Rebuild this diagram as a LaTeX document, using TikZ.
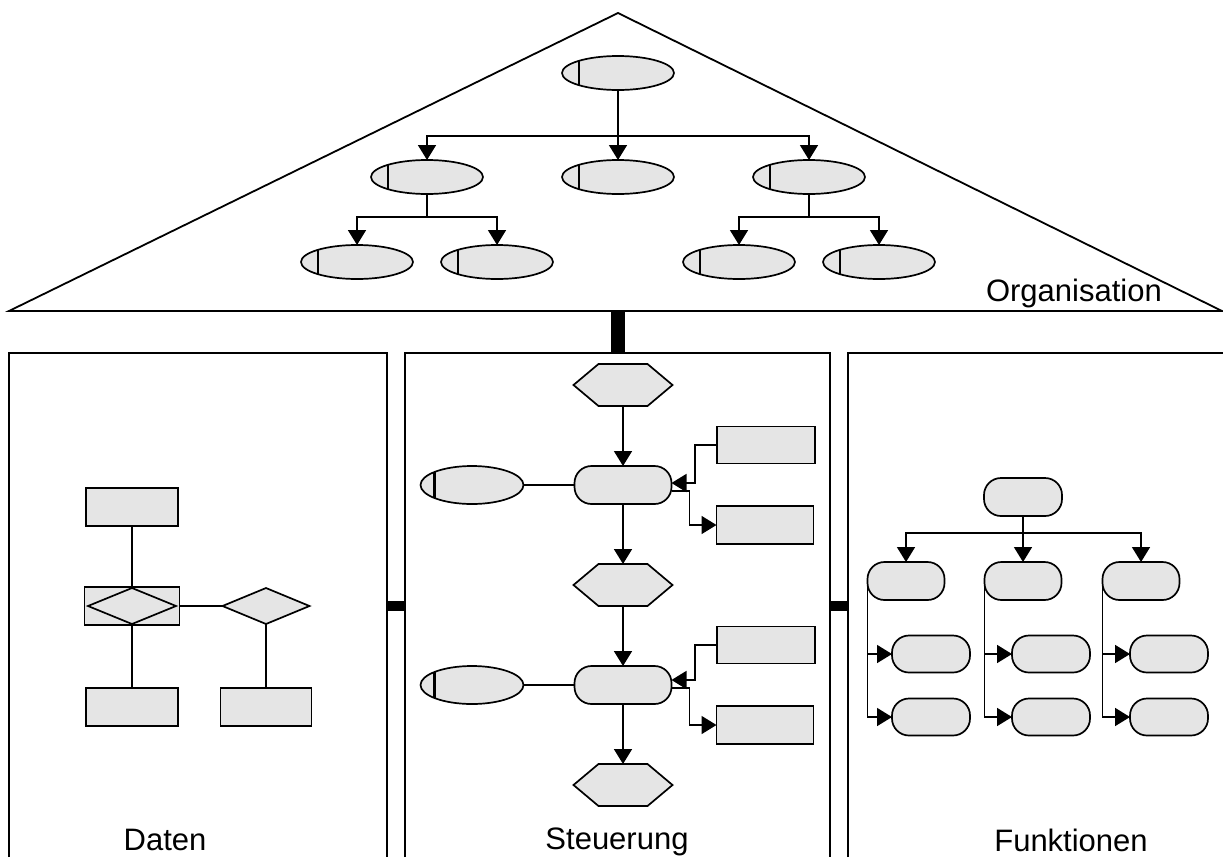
\documentclass[tikz,border=0pt]{standalone}
\usepackage{fontspec}
\setmainfont{Liberation Sans}
\usetikzlibrary{shapes.geometric,arrows.meta}
\tikzset{
  lw/.style={line width=1.7pt},
  shp/.style={lw, draw=black, fill=black!10, inner sep=0pt, outer sep=0pt},
  orgell/.style={shp, ellipse, minimum width=#1, minimum height=34pt,
    path picture={\draw[line width=2.4pt] ([xshift=17pt]path picture bounding box.south west) -- ([xshift=17pt]path picture bounding box.north west);}},
  orgell/.default=112pt,
  ctlell/.style={shp, ellipse, minimum width=103pt, minimum height=38pt,
    path picture={\draw[line width=2.4pt] ([xshift=14pt]path picture bounding box.south west) -- ([xshift=14pt]path picture bounding box.north west);}},
  stad/.style={shp, rectangle, rounded corners=17pt, minimum width=#1, minimum height=38pt},
  stad/.default=97pt,
  box/.style={shp, rectangle, minimum width=#1, minimum height=38pt},
  box/.default=92pt,
  dia/.style={shp, diamond, minimum width=88pt, minimum height=36pt},
  hexnode/.style={inner sep=0pt, outer sep=0pt, minimum width=99pt, minimum height=42pt},
  hexline/.style={shp},
  conn/.style={lw, draw=black},
  arr/.style={conn, -{Triangle[width=18pt,length=15pt]}},
  frame/.style={line width=1.8pt, draw=black},
  bar/.style={fill=black, draw=none},
  lbl/.style={inner sep=0pt, anchor=base, font=\fontsize{31}{37}\selectfont},
}
\newcommand\hexdraw[1]{\draw[hexline] (#1.west) -- ([xshift=25pt]#1.north west) -- ([xshift=-25pt]#1.north east) -- (#1.east) -- ([xshift=-25pt]#1.south east) -- ([xshift=25pt]#1.south west) -- cycle;}
\begin{document}
\begin{tikzpicture}[x=1pt,y=-1pt]
\useasboundingbox (0,0) rectangle (1223,857);
% ---------- Organisation (roof) ----------
\draw[frame, line join=miter] (9,311) -- (618,13) -- (1222,311) -- cycle;
\node[lbl, anchor=base east] (lorg) at (1162,301) {Organisation};
\node[orgell] (o1) at (618,73) {};
\node[orgell] (o2) at (427,177) {};
\node[orgell] (o3) at (618,177) {};
\node[orgell] (o4) at (809,177) {};
\node[orgell] (o5) at (357,262) {};
\node[orgell] (o6) at (497,262) {};
\node[orgell] (o7) at (739,262) {};
\node[orgell] (o8) at (879,262) {};
\draw[arr] (o1.south) -- (o3.north);
\draw[arr] (o1.south) -- ++(0,46) -| (o2.north);
\draw[arr] (o1.south) -- ++(0,46) -| (o4.north);
\draw[arr] (o2.south) -- ++(0,23) -| (o5.north);
\draw[arr] (o2.south) -- ++(0,23) -| (o6.north);
\draw[arr] (o4.south) -- ++(0,23) -| (o7.north);
\draw[arr] (o4.south) -- ++(0,23) -| (o8.north);
% ---------- panels ----------
\draw[frame] (9,857) -- (9,353) -- (387,353) -- (387,857);
\draw[frame] (405,857) -- (405,353) -- (830,353) -- (830,857);
\draw[frame] (848,857) -- (848,353) -- (1224,353);
\draw[bar] (611,311) rectangle (625,353);
\draw[bar] (387,601) rectangle (405,611);
\draw[bar] (830,601) rectangle (848,611);
% ---------- Daten ----------
\node[box] (d1) at (132,507) {};
\node[box=95pt] (d2) at (132,606) {};
\node[dia] (dd2) at (132,606) {};
\node[dia, minimum width=87pt] (d3) at (266,606) {};
\node[box] (d4) at (132,707) {};
\node[box=91pt] (d5) at (266,707) {};
\draw[conn] (d1.south) -- (dd2.north);
\draw[conn] (dd2.south) -- (d4.north);
\draw[conn] (d2.east) -- (d3.west);
\draw[conn] (d3.south) -- (d5.north);
\node[lbl] (ldat) at (165,850) {Daten};
% ---------- Steuerung ----------
\node[hexnode] (h1) at (623,385) {}; \hexdraw{h1}
\node[hexnode] (h2) at (623,585) {}; \hexdraw{h2}
\node[hexnode] (h3) at (623,785) {}; \hexdraw{h3}
\node[stad] (s1) at (623,485) {};
\node[stad] (s2) at (623,685) {};
\node[ctlell] (e1) at (472,485) {};
\node[ctlell] (e2) at (472,685) {};
\node[box=98pt, minimum height=37pt] (r1) at (766,445) {};
\node[box=97pt] (r2) at (765,525) {};
\node[box=98pt, minimum height=37pt] (r3) at (766,645) {};
\node[box=97pt] (r4) at (765,725) {};
\draw[arr] (h1.south) -- (s1.north);
\draw[arr] (s1.south) -- (h2.north);
\draw[arr] (h2.south) -- (s2.north);
\draw[arr] (s2.south) -- (h3.north);
\draw[conn] (e1.east) -- (s1.west);
\draw[conn] (e2.east) -- (s2.west);
\draw[arr] (r1.west) -- ++(-22,0) |- ([yshift=2pt]s1.east);
\draw[arr] ([yshift=-6pt]s1.east) -- ++(18,0) |- (r2.west);
\draw[arr] (r3.west) -- ++(-22,0) |- ([yshift=5pt]s2.east);
\draw[arr] ([yshift=-3pt]s2.east) -- ++(18,0) |- (r4.west);
\node[lbl] (lste) at (617,849) {Steuerung};
% ---------- Funktionen ----------
\node[stad=78pt] (f1) at (1023,497) {};
\node[stad=77pt] (f2) at (906,581) {};
\node[stad=77pt] (f3) at (1023,581) {};
\node[stad=77pt] (f4) at (1141,581) {};
\node[stad=78pt, minimum height=37pt] (f5) at (931,654) {};
\node[stad=78pt, minimum height=37pt] (f6) at (931,717) {};
\node[stad=78pt, minimum height=37pt] (f7) at (1051,654) {};
\node[stad=78pt, minimum height=37pt] (f8) at (1051,717) {};
\node[stad=78pt, minimum height=37pt] (f9) at (1169,654) {};
\node[stad=78pt, minimum height=37pt] (f10) at (1169,717) {};
\draw[arr] (f1.south) -- (f3.north);
\draw[arr] (f1.south) -- ++(0,17) -| (f2.north);
\draw[arr] (f1.south) -- ++(0,17) -| (f4.north);
\draw[arr] (f2.west) |- (f5.west);
\draw[arr] (f2.west) |- (f6.west);
\draw[arr] (f3.west) |- (f7.west);
\draw[arr] (f3.west) |- (f8.west);
\draw[arr] (f4.west) |- (f9.west);
\draw[arr] (f4.west) |- (f10.west);
\node[lbl] (lfun) at (1071,851) {Funktionen};
\end{tikzpicture}
\end{document}
